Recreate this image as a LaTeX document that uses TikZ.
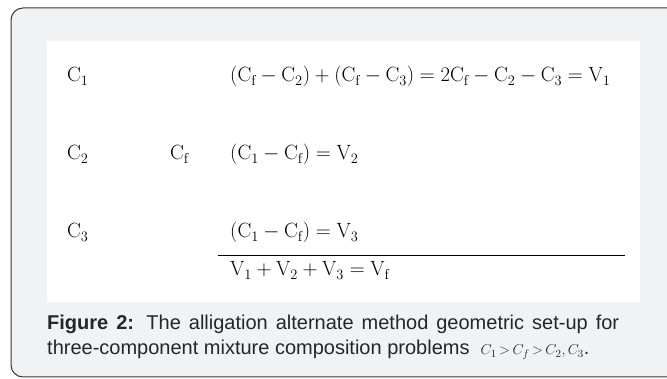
\documentclass[tikz,border=0pt]{standalone}
\usepackage{amsmath,amssymb}
\usepackage{fontspec}
\newfontfamily\capfont{Liberation Sans}
\usepackage{tikz}

\definecolor{panelgray}{RGB}{241,242,244}
\definecolor{framegray}{RGB}{55,55,55}

\begin{document}
\begin{tikzpicture}[x=1pt, y=-1pt,
    every node/.style={font=\fontsize{20.6}{24}\selectfont, inner sep=0pt, anchor=base west}]
	\useasboundingbox (0,0) rectangle (667,379);
	% panel and white sheet
	\draw[framegray, fill=panelgray, line width=1pt, rounded corners=12pt] (11,8) rectangle (700,377);
	\fill[white] (47,41) rectangle (640,302);
	% concentrations
	\node (c1) at (67,82) {$\mathrm{C}_1$};
	\node (c2) at (67,160) {$\mathrm{C}_2$};
	\node (c3) at (67,238) {$\mathrm{C}_3$};
	\node (cf) at (170,160) {$\mathrm{C}_\mathrm{f}$};
	% volumes
	\node (v1) at (230,82) {$(\mathrm{C_f}-\mathrm{C_2})+(\mathrm{C_f}-\mathrm{C_3})=2\mathrm{C_f}-\mathrm{C_2}-\mathrm{C_3}=\mathrm{V_1}$};
	\node (v2) at (230,160) {$(\mathrm{C_1}-\mathrm{C_f})=\mathrm{V_2}$};
	\node (v3) at (230,238) {$(\mathrm{C_1}-\mathrm{C_f})=\mathrm{V_3}$};
	\coordinate (sumL) at (218,256);
	\coordinate (sumR) at (625,256);
	\draw[line width=1pt] (sumL) -- (sumR);
	\node (vf) at (230,276) {$\mathrm{V_1}+\mathrm{V_2}+\mathrm{V_3}=\mathrm{V_f}$};
	% caption
	\node[font=\capfont\fontsize{20}{25}\selectfont, text width=572pt, align=justify, text=black!85] (cap) at (47,330)
		{\textbf{Figure 2:} The alligation alternate method geometric set-up for\linebreak three-component mixture composition problems\ \ {\fontsize{15}{17}\selectfont$C_1\mkern-2mu>\mkern-2mu C_f\mkern-2mu>\mkern-2mu C_2,C_3$}.};
\end{tikzpicture}
\end{document}
